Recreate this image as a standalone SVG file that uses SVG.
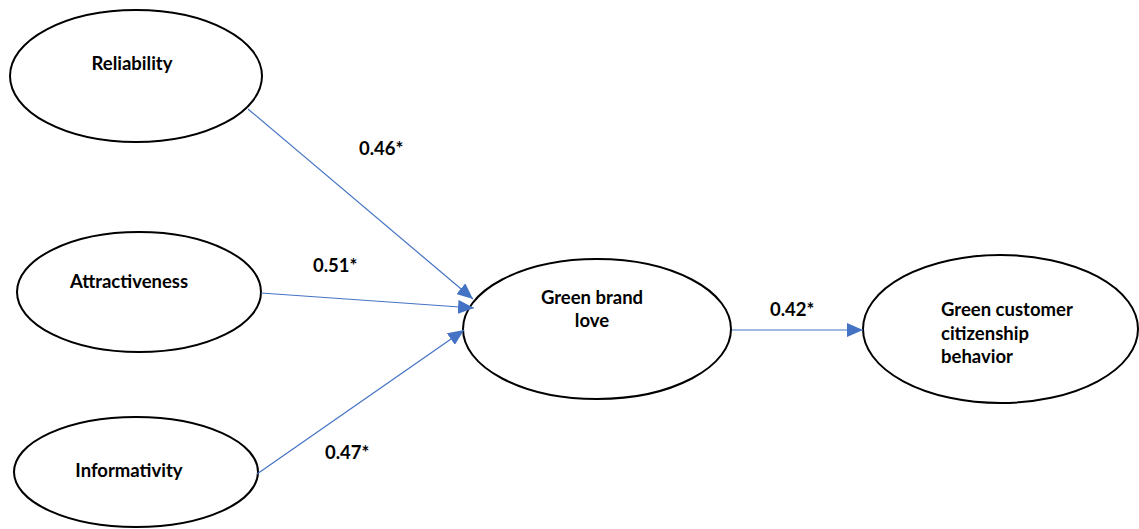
<svg xmlns="http://www.w3.org/2000/svg" width="1139" height="529" viewBox="0 0 1139 529">
<style>
.node ellipse{fill:#fff;stroke:#000;stroke-width:2}
text{font-family:Lato,"Open Sans","Liberation Sans",sans-serif;font-weight:bold;font-size:18.5px;fill:#000}
.c line{stroke:#4472C4;stroke-width:1.2;fill:none}
.m{text-anchor:middle}
</style>
<defs>
<marker id="ah" markerUnits="userSpaceOnUse" markerWidth="16" markerHeight="14" refX="16" refY="7" orient="auto">
<path d="M0,0 L16,7 L0,14 Z" fill="#4472C4"/>
</marker>
</defs>
<rect width="1139" height="529" fill="#fff"/>
<g id="reliability" class="node"><ellipse cx="136" cy="76" rx="126" ry="66"/><text class="m" x="132" y="70">Reliability</text></g>
<g id="attractiveness" class="node"><ellipse cx="139" cy="292" rx="122" ry="60"/><text class="m" x="129" y="288">Attractiveness</text></g>
<g id="informativity" class="node"><ellipse cx="136" cy="472" rx="122" ry="55"/><text class="m" x="129" y="477">Informativity</text></g>
<g id="green-brand-love" class="node"><ellipse cx="597" cy="329" rx="134" ry="70"/><text class="m" x="592" y="304">Green brand</text><text class="m" x="592" y="327">love</text></g>
<g id="gccb" class="node"><ellipse cx="1000.5" cy="329" rx="137.5" ry="74"/><text x="941" y="316">Green customer</text><text x="941" y="340">citizenship</text><text x="941" y="363">behavior</text></g>
<g id="connectors" class="c">
<line x1="248" y1="109" x2="473" y2="299" marker-end="url(#ah)"/>
<line x1="261" y1="293" x2="474" y2="308" marker-end="url(#ah)"/>
<line x1="257" y1="474" x2="464" y2="330" marker-end="url(#ah)"/>
<line x1="732" y1="330" x2="863" y2="330" marker-end="url(#ah)"/>
</g>
<g id="labels">
<text x="359" y="155">0.46*</text>
<text x="313" y="272">0.51*</text>
<text x="325" y="459">0.47*</text>
<text x="770" y="316">0.42*</text>
</g>
</svg>
